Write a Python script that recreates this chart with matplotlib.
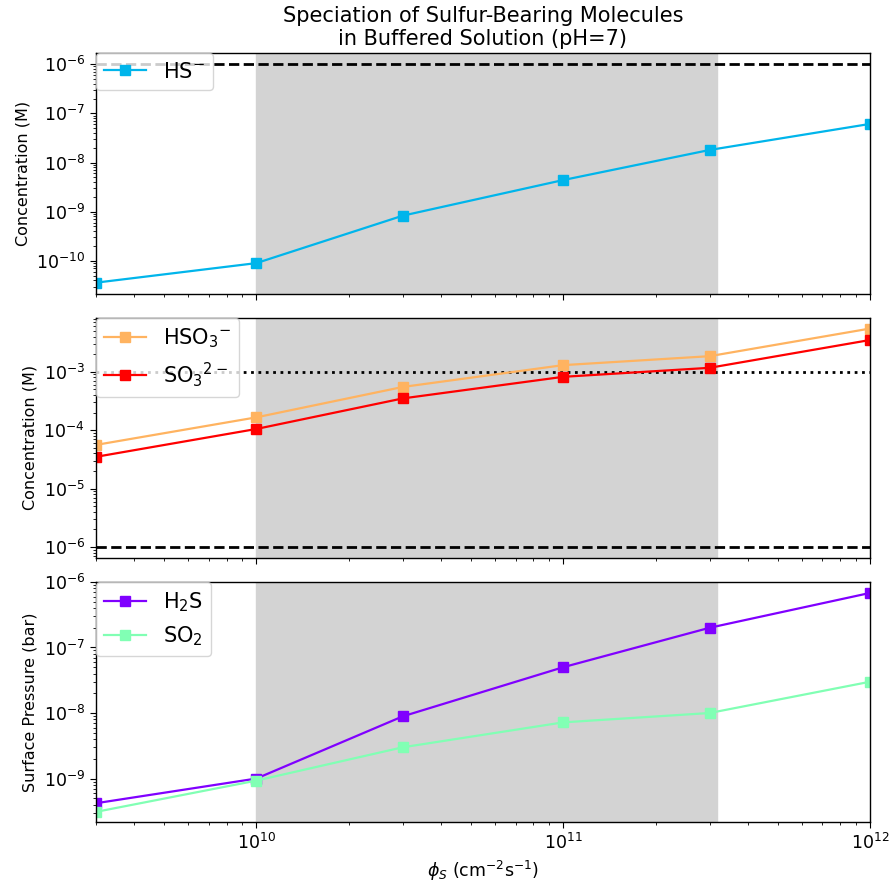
import numpy as np
import matplotlib
matplotlib.use('Agg')
import matplotlib.pyplot as plt

# 硫通量 (cm^-2 s^-1)
phi_s = [3e9, 1e10, 3e10, 1e11, 3e11, 1e12]

# 溶液中浓度 (M)
hs_minus = [3.6e-11, 9.0e-11, 8.3e-10, 4.4e-9, 1.8e-8, 6.1e-8]
hso3_minus = [5.6e-5, 1.66e-4, 5.5e-4, 1.3e-3, 1.85e-3, 5.5e-3]
so3_2minus = [3.5e-5, 1.05e-4, 3.5e-4, 8.2e-4, 1.17e-3, 3.5e-3]

# 表面分压 (bar)
h2s = [4.2e-10, 1.0e-9, 8.9e-9, 5.0e-8, 2.0e-7, 6.8e-7]
so2 = [3.1e-10, 9.3e-10, 3.0e-9, 7.2e-9, 1.0e-8, 3.0e-8]

shade_lo, shade_hi = 1e10, 10**11.5
colors = plt.cm.rainbow(np.linspace(0, 1, 5))

# 整体放大约 1.25 倍
plt.rcParams.update({
    'xtick.labelsize': 12.5,
    'ytick.labelsize': 12.5,
    'axes.labelsize': 11.5,
    'xtick.major.size': 4.4,
    'ytick.major.size': 4.4,
    'xtick.minor.size': 2.5,
    'ytick.minor.size': 2.5,
    'axes.linewidth': 1.0,
    'lines.linewidth': 1.6,
    'lines.markersize': 7,
})

fig, axes = plt.subplots(3, 1, figsize=(8.91, 8.88), dpi=100, sharex=True)
fig.subplots_adjust(left=0.1077, right=0.9764, top=0.94, bottom=0.074, hspace=0.1)

for ax in axes:
    ax.axvspan(shade_lo, shade_hi, color='lightgray', zorder=0)
    ax.set_xscale('log')
    ax.set_yscale('log')

# 上图：HS-
ax = axes[0]
ax.axhline(1e-6, color='k', ls='--', lw=2)
ax.plot(phi_s, hs_minus, marker='s', color=colors[1], label=r'HS$^{-}$')
ax.set_ylabel('Concentration (M)')
ax.set_title('Speciation of Sulfur-Bearing Molecules\nin Buffered Solution (pH=7)', fontsize=15)
ax.legend(loc='upper left', borderaxespad=0, fontsize=15)

# 中图：HSO3- 与 SO3 2-
ax = axes[1]
ax.axhline(1e-3, color='k', ls=':', lw=2)
ax.axhline(1e-6, color='k', ls='--', lw=2)
ax.plot(phi_s, hso3_minus, marker='s', color=colors[3], label=r'HSO$_3$$^{-}$')
ax.plot(phi_s, so3_2minus, marker='s', color=colors[4], label=r'SO$_3$$^{2-}$')
ax.set_ylabel('Concentration (M)')
ax.legend(loc='upper left', borderaxespad=0, fontsize=15)

# 下图：H2S 与 SO2
ax = axes[2]
ax.plot(phi_s, h2s, marker='s', color=colors[0], label=r'H$_2$S')
ax.plot(phi_s, so2, marker='s', color=colors[2], label=r'SO$_2$')
ax.set_ylabel('Surface Pressure (bar)')
ax.set_xlabel(r'$\phi_S$ (cm$^{-2}$s$^{-1}$)', fontsize=12.5)
ax.legend(loc='upper left', borderaxespad=0, fontsize=15)
ax.set_ylim(2.15e-10, 1e-6)

axes[2].set_xlim(phi_s[0], phi_s[-1])

plt.savefig('out.png', dpi=100)
plt.close()
